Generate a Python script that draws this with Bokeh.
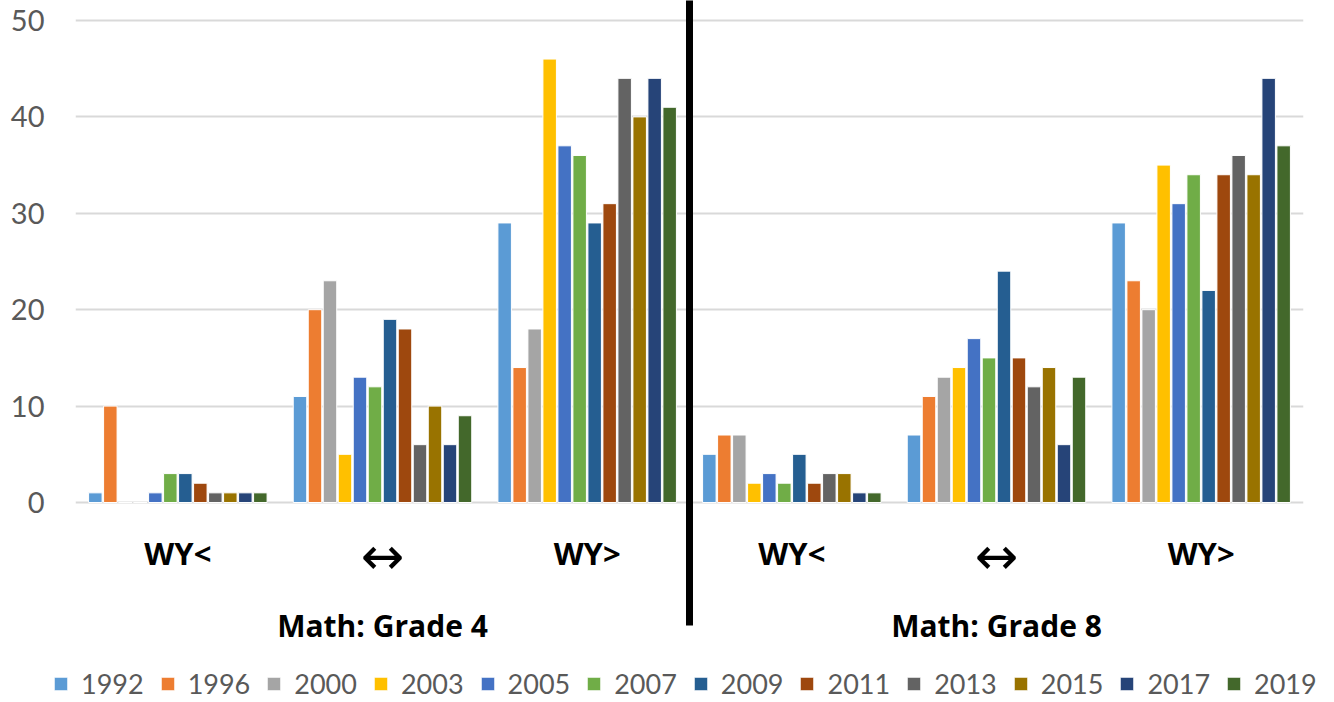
from bokeh.plotting import figure
from bokeh.models import (ColumnDataSource, FactorRange, Range1d, FixedTicker,
                          Legend, LegendItem)
from bokeh.layouts import column
from bokeh.transform import dodge
from bokeh.core.properties import value
from bokeh.embed import file_html
from bokeh.resources import INLINE

# ---------------- data ----------------
years = ["1992", "1996", "2000", "2003", "2005", "2007",
         "2009", "2011", "2013", "2015", "2017", "2019"]
grades = ["Math: Grade 4", "Math: Grade 8"]
categories = ["WY<", "↔", "WY>"]
colors = ["#5B9BD5", "#ED7D31", "#A5A5A5", "#FFC000", "#4472C4", "#70AD47",
          "#255E91", "#9E480E", "#636363", "#997300", "#264478", "#43682B"]

# values per year (same order as `years`)
g4_wy_below = [1, 10, 0, 0, 1, 3, 3, 2, 1, 1, 1, 1]
g4_no_diff = [11, 20, 23, 5, 13, 12, 19, 18, 6, 10, 6, 9]
g4_wy_above = [29, 14, 18, 46, 37, 36, 29, 31, 44, 40, 44, 41]
g8_wy_below = [5, 7, 7, 2, 3, 2, 5, 2, 3, 3, 1, 1]
g8_no_diff = [7, 11, 13, 14, 17, 15, 24, 15, 12, 14, 6, 13]
g8_wy_above = [29, 23, 20, 35, 31, 34, 22, 34, 36, 34, 44, 37]

y_ticks = [0, 10, 20, 30, 40, 50]

series = {
    (grades[0], categories[0]): g4_wy_below,
    (grades[0], categories[1]): g4_no_diff,
    (grades[0], categories[2]): g4_wy_above,
    (grades[1], categories[0]): g8_wy_below,
    (grades[1], categories[1]): g8_no_diff,
    (grades[1], categories[2]): g8_wy_above,
}

# ---------------- main figure ----------------
factors = [(g, c, y) for g in grades for c in categories for y in years]
x_range = FactorRange(*factors, factor_padding=0, subgroup_padding=1.644,
                      group_padding=1.644, range_padding=0.822,
                      range_padding_units="absolute")

W, H1, H2 = 1334, 650, 52
p = figure(width=W, height=H1, x_range=x_range,
           y_range=Range1d(-15.353, 52.075),
           x_axis_location=None, output_backend="svg", toolbar_location=None,
           min_border_left=75, min_border_right=31, min_border_top=0,
           min_border_bottom=0)
p.frame_align = False
p.outline_line_color = None
p.background_fill_color = "white"

# y axis
p.yaxis.ticker = FixedTicker(ticks=y_ticks)
p.yaxis.axis_line_color = None
p.yaxis.major_tick_line_color = None
p.yaxis.minor_tick_line_color = None
p.yaxis.major_tick_out = 0
p.yaxis.major_tick_in = 0
p.yaxis.major_label_standoff = 31
p.yaxis.major_label_text_font = "Lato"
p.yaxis.major_label_text_font_size = "29px"
p.yaxis.major_label_text_color = "#595959"
p.ygrid.ticker = FixedTicker(ticks=y_ticks)
p.ygrid.grid_line_color = "#D9D9D9"
p.ygrid.grid_line_width = 2
p.xgrid.visible = False

# bars, one renderer per year
combos = [(g, c) for g in grades for c in categories]
for i, yr in enumerate(years):
    src = ColumnDataSource(dict(
        x=[(g, c, yr) for g, c in combos],
        top=[series[(g, c)][i] for g, c in combos],
    ))
    p.vbar(x="x", top="top", width=0.9, source=src,
           fill_color=colors[i], line_color="white", line_width=1)

# category labels (word labels and arrow label drawn separately for fonts)
word_combos = [(g, c) for g, c in combos if c != categories[1]]
word_src = ColumnDataSource(dict(x=word_combos, text=[c for g, c in word_combos]))
p.text(x="x", y=-5.2, text="text", source=word_src,
       text_font=value("Open Sans"), text_font_style="bold",
       text_font_size=value("31px"), text_color="black",
       text_align="center", text_baseline="middle")

arrow_combos = [(g, c) for g, c in combos if c == categories[1]]
arrow_src = ColumnDataSource(dict(x=arrow_combos, text=[c for g, c in arrow_combos]))
p.text(x="x", y=-5.55, text="text", source=arrow_src,
       text_font=value("DejaVu Sans"), text_font_style="normal",
       text_font_size=value("52px"), text_color="black",
       text_align="center", text_baseline="middle")

# group labels
grp_src = ColumnDataSource(dict(x=grades, text=grades))
p.text(x="x", y=-12.81, text="text", source=grp_src,
       text_font=value("Open Sans"), text_font_style="bold",
       text_font_size=value("30px"), text_color="black",
       text_align="center", text_baseline="middle")

# separator between the two grades
sep_src = ColumnDataSource(dict(x=[(grades[0], categories[2], years[-1])]))
sep_x = dodge("x", 1.322, range=p.x_range)
p.segment(x0=sep_x, x1=sep_x, y0=-12.76, y1=53, source=sep_src,
          line_color="black", line_width=7)

# ---------------- legend strip ----------------
leg = figure(width=W, height=H2, x_range=Range1d(0, W), y_range=Range1d(0, H2),
             x_axis_location=None, y_axis_location=None,
             output_backend="svg", toolbar_location=None,
             min_border=0)
leg.frame_align = False
leg.outline_line_color = None
leg.xgrid.visible = False
leg.ygrid.visible = False
items = []
for i, yr in enumerate(years):
    # off-screen proxy bar so that the legend swatch is drawn
    r = leg.vbar(x=[-10], top=[0], width=1, fill_color=colors[i],
                 line_color="white", line_width=1)
    items.append(LegendItem(label=yr, renderers=[r]))

legend = Legend(items=items, orientation="horizontal", location=(52, 2),
                glyph_width=17, glyph_height=17, label_standoff=12,
                spacing=15, padding=0, margin=0,
                border_line_color=None, background_fill_alpha=0,
                label_text_font="Lato", label_text_font_size="27px",
                label_text_color="#595959")
leg.add_layout(legend)

layout = column(p, leg, spacing=0)
open("out.html", "w").write(file_html(layout, INLINE))
